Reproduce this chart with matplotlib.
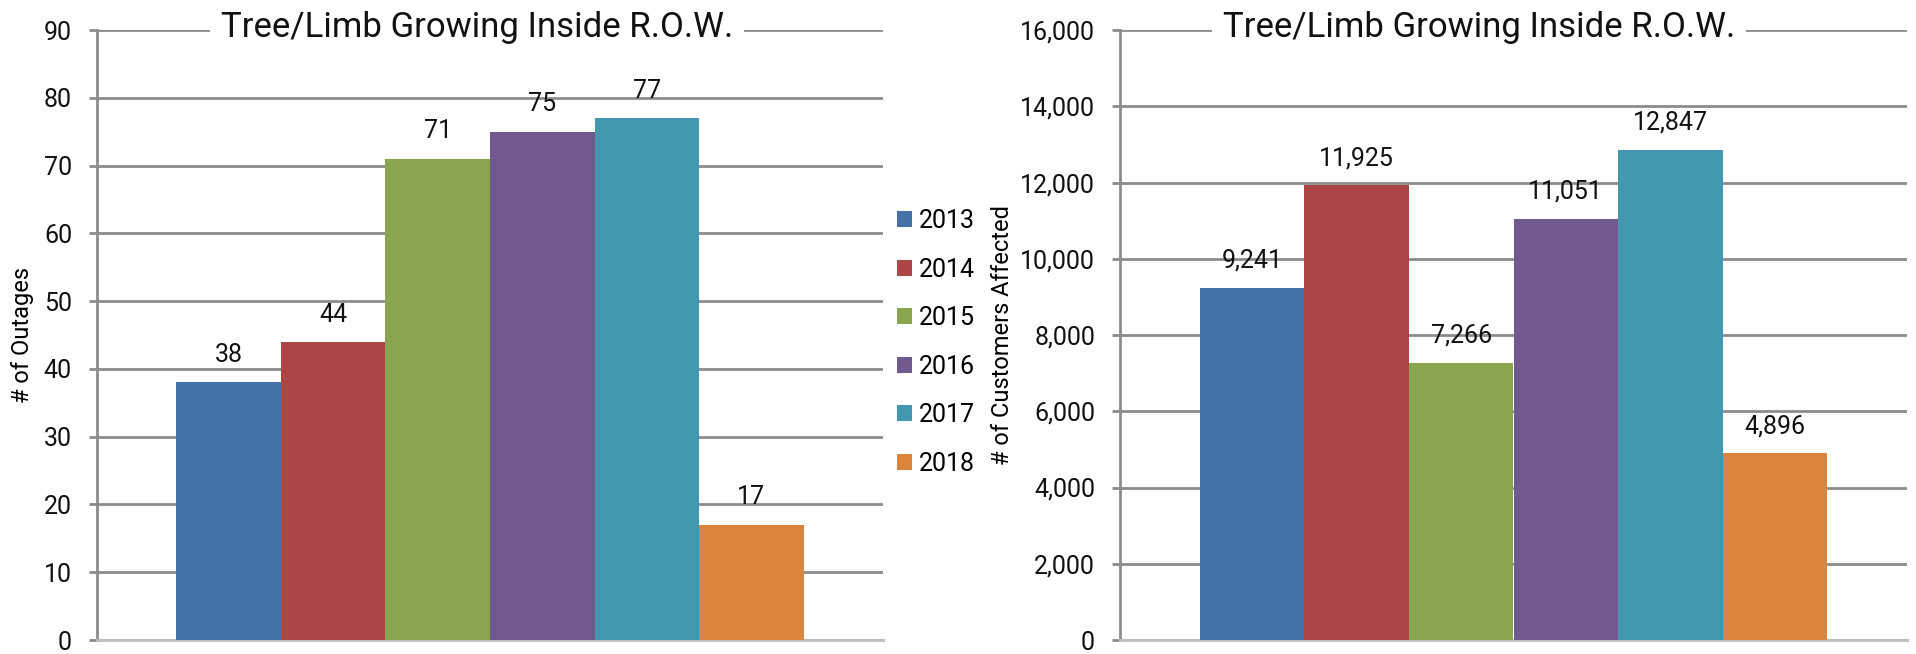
import numpy as np
import matplotlib
matplotlib.use('Agg')
import matplotlib.pyplot as plt
from matplotlib.ticker import FuncFormatter

years = ['2013', '2014', '2015', '2016', '2017', '2018']
outages = [38, 44, 71, 75, 77, 17]
customers = [9241, 11925, 7266, 11051, 12847, 4896]
colors = ['#4572A7', '#AA4643', '#89A54E', '#71588F', '#4198AF', '#DB843D']
title = 'Tree/Limb Growing Inside R.O.W.'

plt.rcParams['font.family'] = ['Roboto', 'DejaVu Sans']
grid_c = '#8C8C8C'

fig = plt.figure(figsize=(19.16, 6.54), dpi=100)
ax1 = fig.add_axes([97/1916, 14/654, 786/1916, 610/654])
ax2 = fig.add_axes([1120/1916, 14/654, 787/1916, 610/654])

def style(ax, ymax, step, fmt):
    ax.set_ylim(0, ymax)
    ax.set_yticks(np.arange(0, ymax + 1, step))
    ax.yaxis.set_major_formatter(FuncFormatter(fmt))
    ax.set_xlim(-1.26, 6.26)
    ax.set_xticks([])
    ax.grid(axis='y', color=grid_c, linewidth=2, zorder=0)
    ax.set_axisbelow(True)
    for s in ['top', 'right']:
        ax.spines[s].set_visible(False)
    ax.spines['left'].set_color(grid_c)
    ax.spines['left'].set_linewidth(2)
    ax.spines['bottom'].set_color('#BFBFBF')
    ax.spines['bottom'].set_linewidth(2)
    ax.tick_params(axis='y', length=6, width=2, color=grid_c, labelsize=18,
                   pad=12, labelcolor='#111111')

def bars(ax, vals, fmt):
    x = np.arange(len(vals))
    rects = ax.bar(x, vals, width=1.0, color=colors, zorder=3)
    for r, v in zip(rects, vals):
        ax.annotate(fmt(v), (r.get_x() + r.get_width() / 2, v),
                    xytext=(0, 11), textcoords='offset points',
                    ha='center', va='bottom', fontsize=18, color='#111111')
    return rects

rects = bars(ax1, outages, lambda v: f'{v}')
style(ax1, 90, 10, lambda v, p: f'{v:.0f}')
ax1.set_ylabel('# of Outages', fontsize=17, labelpad=7)

bars(ax2, customers, lambda v: f'{v:,}')
style(ax2, 16000, 2000, lambda v, p: f'{v:,.0f}')
ax2.set_ylabel('# of Customers Affected', fontsize=17, labelpad=4)

for xc in [477/1916, 1479/1916]:
    fig.text(xc, 1 - 27/654, title, ha='center', va='center', fontsize=25,
             color='#111111', bbox=dict(facecolor='white', edgecolor='none', pad=8))

ax1.legend(rects, years, loc='center left', bbox_to_anchor=(1.018, 0.488),
           frameon=False, fontsize=18, handlelength=0.6, handleheight=0.6,
           handletextpad=0.25, labelspacing=0.98, borderpad=0, borderaxespad=0)

fig.savefig('out.png', dpi=100)
